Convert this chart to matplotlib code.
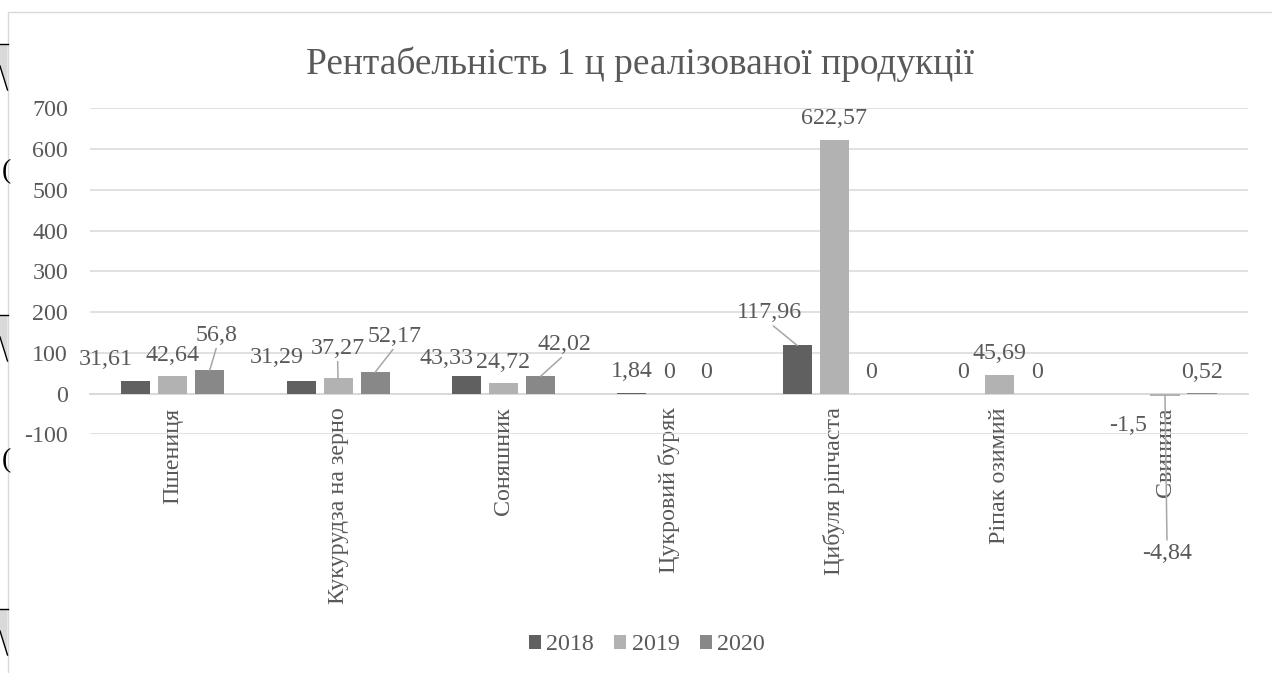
import matplotlib
matplotlib.use("Agg")
import matplotlib.pyplot as plt
import numpy as np
from matplotlib.patches import Rectangle, Polygon
from matplotlib.lines import Line2D

# ---- data -------------------------------------------------------------
categories = ["Пшениця", "Кукурудза на зерно", "Соняшник", "Цукровий буряк",
              "Цибуля ріпчаста", "Ріпак озимий", "Свинина"]
years = ["2018", "2019", "2020"]
values_2018 = [31.61, 31.29, 43.33, 1.84, 117.96, 0, -1.5]
values_2019 = [42.64, 37.27, 24.72, 0, 622.57, 45.69, -4.84]
values_2020 = [56.8, 52.17, 42.02, 0, 0, 0, 0.52]
y_ticks = [-100, 0, 100, 200, 300, 400, 500, 600, 700]
title = "Рентабельність 1 ц реалізованої продукції"

# ---- styling ----------------------------------------------------------
W, H, DPI = 1272, 673, 100
plt.rcParams["font.family"] = ["Liberation Serif", "DejaVu Serif"]
TEXT = "#595959"
GRID = "#d9d9d9"
LEADER = "#a6a6a6"
colors = ["#606060", "#b2b2b2", "#888888"]
FS = 17.3          # labels, ticks, legend (pt)
FS_TITLE = 26.9


def fx(px):
    return px / W


def fy(py):
    return 1 - py / H


fig = plt.figure(figsize=(W / DPI, H / DPI), dpi=DPI)
fig.patch.set_facecolor("white")

ax = fig.add_axes([fx(90), fy(434.3), fx(1247.7) - fx(90), fy(108.3) - fy(434.3)])

x = np.arange(len(categories))
bar_w = 0.1755
offsets = [-0.2237, 0.0, 0.2237]
series = [values_2018, values_2019, values_2020]

containers = []
for vals, off, col, yr in zip(series, offsets, colors, years):
    bc = ax.bar(x + off, vals, width=bar_w, color=col, edgecolor="none",
                label=yr, zorder=3)
    containers.append(bc)

ax.set_xlim(-0.5, len(categories) - 0.5)
ax.set_ylim(-100, 700)
ax.set_yticks(y_ticks)
ax.set_yticklabels([str(t) for t in y_ticks])
ax.yaxis.grid(True, color=GRID, lw=1.1, zorder=0)
ax.set_axisbelow(True)

for s in ("top", "right", "left"):
    ax.spines[s].set_visible(False)
ax.spines["bottom"].set_position(("data", 0))
ax.spines["bottom"].set_color(GRID)
ax.spines["bottom"].set_linewidth(1.3)
ax.spines["bottom"].set_zorder(2)

ax.set_xticks(x)
ax.set_xticklabels(categories, rotation=90, ha="center", va="top")
ax.tick_params(axis="x", length=0, pad=10.0, labelsize=FS, labelcolor=TEXT)
ax.tick_params(axis="y", length=0, pad=15.8, labelsize=FS, labelcolor=TEXT)
ax.set_facecolor("white")


def fmt(v):
    return f"{v:g}".replace(".", ",")


# label placement in pixels relative to the bar end: (dx, dy up, leader anchor)
label_layout = {
    (0, 0): (-29.7, 23.9, None),
    (2, 0): (7.3, 37.7, (0.5, 0.0)),
    (0, 1): (-24.5, 25.6, None),
    (1, 1): (-0.5, 32.6, (0.5, 0.0)),
    (2, 1): (20.0, 38.6, (0.5, 0.0)),
    (0, 2): (-20.0, 20.2, None),
    (2, 2): (24.0, 34.7, (0.5, 0.0)),
    (0, 4): (-27.3, 35.3, (0.5, 0.0)),
    (1, 6): (2.0, -155.2, (0.5, 1.0)),
}

for si, (vals, off) in enumerate(zip(series, offsets)):
    for ci, v in enumerate(vals):
        if (si, ci) in label_layout:
            dx, dy, rel = label_layout[(si, ci)]
        else:
            dx, dy, rel = (0.0, 23.5, None) if v >= 0 else (0.0, -28.6, None)
        kw = {}
        if rel is not None:
            kw["arrowprops"] = dict(arrowstyle="-", color=LEADER, lw=1.1,
                                    relpos=rel, shrinkA=0, shrinkB=0)
        ax.annotate(fmt(v), xy=(ci + off, v), xycoords="data",
                    xytext=(dx, dy), textcoords="offset pixels",
                    ha="center", va="center_baseline", fontsize=FS,
                    color=TEXT, zorder=5, annotation_clip=False, **kw)

# title
fig.text(fx(640), fy(60), title, ha="center", va="center_baseline",
         fontsize=FS_TITLE, color=TEXT)

# legend
fig.legend(handles=containers, labels=years, loc="center",
           bbox_to_anchor=(fx(647), fy(645)), bbox_transform=fig.transFigure,
           ncol=3, frameon=False, fontsize=FS, labelcolor=TEXT,
           handlelength=0.5, handleheight=0.5, handletextpad=0.22,
           columnspacing=0.85, borderpad=0.0)

# chart frame
fig.add_artist(Rectangle((fx(8), -0.05), 1.2, fy(12) + 0.05,
                         transform=fig.transFigure, fill=False,
                         edgecolor=GRID, lw=1.0))

# page ornaments at the left margin
for yh in (44, 315, 609):
    fig.add_artist(Polygon([(fx(0), fy(yh)), (fx(7.5), fy(yh)),
                            (fx(7.5), fy(yh + 46)), (fx(0), fy(yh + 22))],
                           closed=True, transform=fig.transFigure,
                           facecolor="#d9d9d9", edgecolor="none"))
    fig.add_artist(Line2D([fx(0), fx(7.5)], [fy(yh), fy(yh)],
                          transform=fig.transFigure, color="black", lw=1.0))
    fig.add_artist(Line2D([fx(0), fx(7.5)], [fy(yh + 22), fy(yh + 46)],
                          transform=fig.transFigure, color="black", lw=1.0))
for yc in (172, 461):
    fig.text(fx(6), fy(yc), "(", ha="center", va="center", fontsize=20,
             color="black")

fig.savefig("out.png", dpi=DPI, facecolor="white")
